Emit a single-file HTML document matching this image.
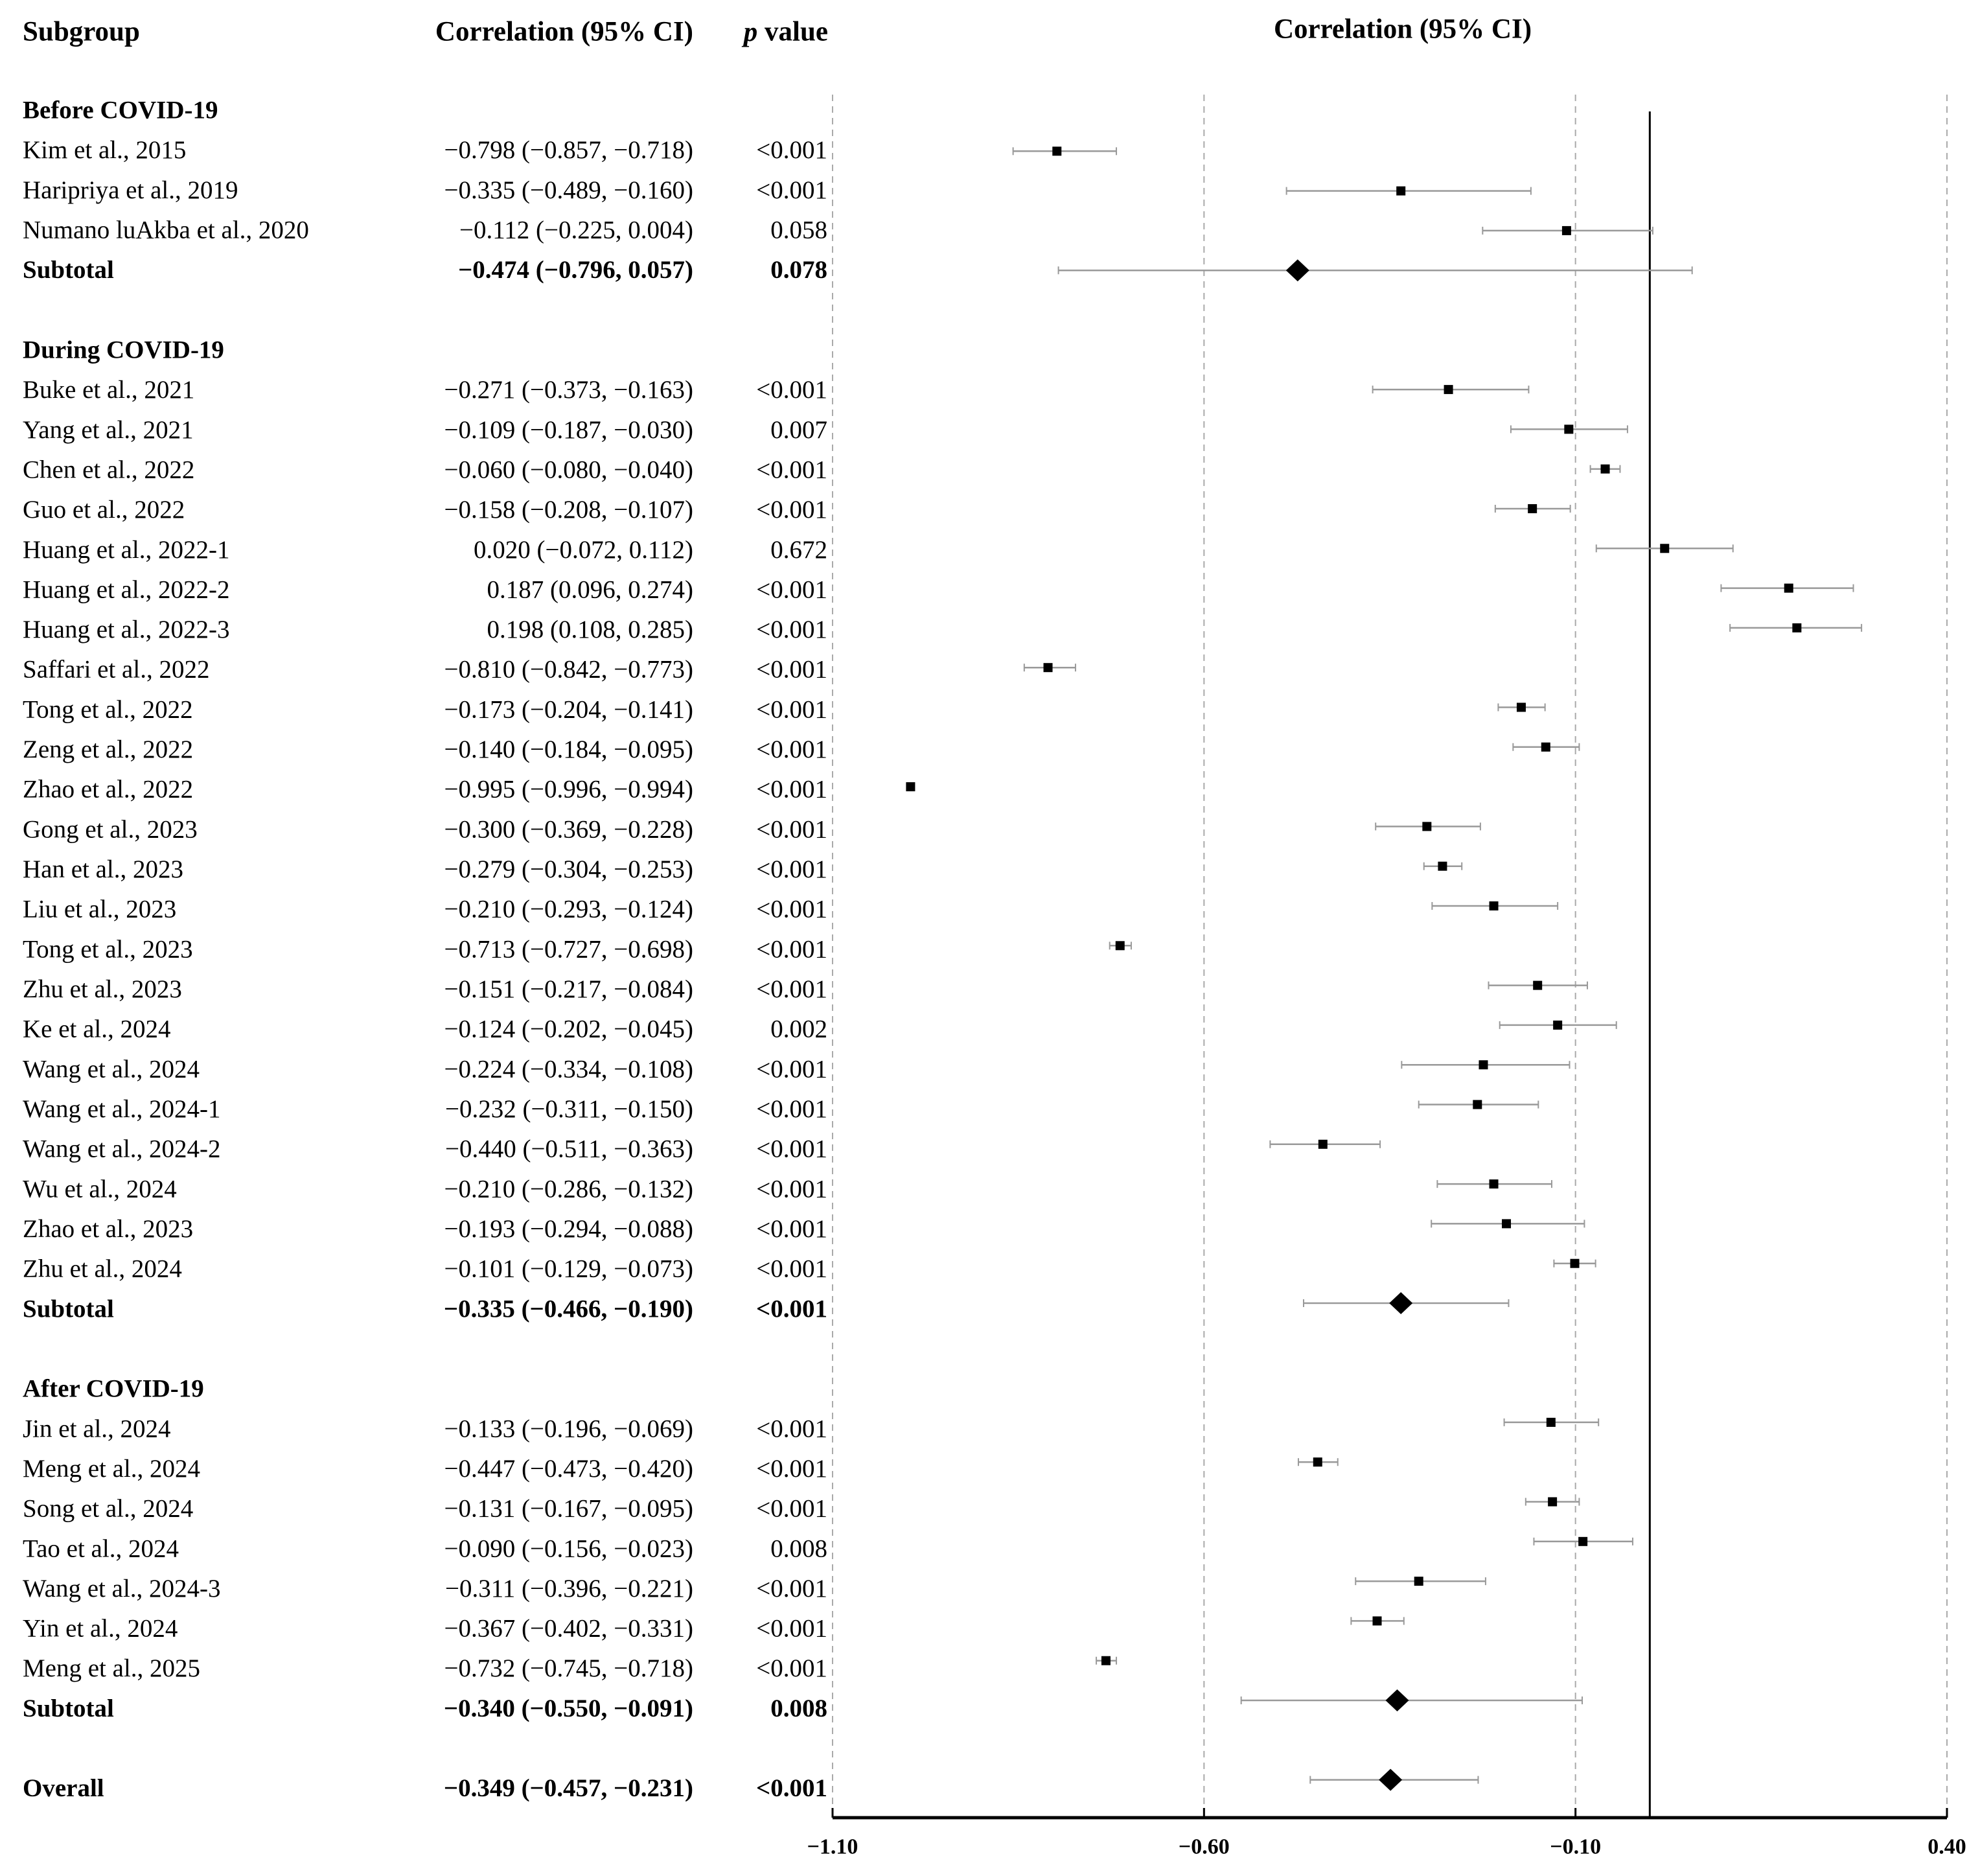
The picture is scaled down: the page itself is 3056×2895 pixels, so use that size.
<!DOCTYPE html>
<html><head><meta charset="utf-8"><style>
html,body{margin:0;padding:0;background:#fff}
svg{display:block}
text{font-family:"Liberation Serif",serif;fill:#000}
</style></head><body>
<svg id="c" width="3056" height="2895" viewBox="0 0 3056 2895" xmlns="http://www.w3.org/2000/svg"></svg>
<script>
// rows: type h=heading, s=study, t=subtotal, o=overall, b=blank
const rowTypes = ["h","s","s","s","t","b","h","s","s","s","s","s","s","s","s","s","s","s","s","s","s","s","s","s","s","s","s","s","s","s","t","b","h","s","s","s","s","s","s","s","t","b","o"];
const labels = ["Before COVID-19","Kim et al., 2015","Haripriya et al., 2019","Numano luAkba  et al., 2020","Subtotal","",
"During COVID-19","Buke et al., 2021","Yang et al., 2021","Chen et al., 2022","Guo et al., 2022","Huang et al., 2022-1","Huang et al., 2022-2","Huang et al., 2022-3","Saffari et al., 2022","Tong et al., 2022","Zeng et al., 2022","Zhao et al., 2022","Gong et al., 2023","Han et al., 2023","Liu et al., 2023","Tong et al., 2023","Zhu et al., 2023","Ke et al., 2024","Wang  et al., 2024","Wang et al., 2024-1","Wang et al., 2024-2","Wu et al., 2024","Zhao et al., 2023","Zhu et al., 2024","Subtotal","",
"After COVID-19","Jin et al., 2024","Meng et al., 2024","Song  et al., 2024","Tao et al., 2024","Wang et al., 2024-3","Yin et al., 2024","Meng et al., 2025","Subtotal","","Overall"];
const est = [null,-0.798,-0.335,-0.112,-0.474,null,null,-0.271,-0.109,-0.060,-0.158,0.020,0.187,0.198,-0.810,-0.173,-0.140,-0.995,-0.300,-0.279,-0.210,-0.713,-0.151,-0.124,-0.224,-0.232,-0.440,-0.210,-0.193,-0.101,-0.335,null,null,-0.133,-0.447,-0.131,-0.090,-0.311,-0.367,-0.732,-0.340,null,-0.349];
const lower = [null,-0.857,-0.489,-0.225,-0.796,null,null,-0.373,-0.187,-0.080,-0.208,-0.072,0.096,0.108,-0.842,-0.204,-0.184,-0.996,-0.369,-0.304,-0.293,-0.727,-0.217,-0.202,-0.334,-0.311,-0.511,-0.286,-0.294,-0.129,-0.466,null,null,-0.196,-0.473,-0.167,-0.156,-0.396,-0.402,-0.745,-0.550,null,-0.457];
const upper = [null,-0.718,-0.160,0.004,0.057,null,null,-0.163,-0.030,-0.040,-0.107,0.112,0.274,0.285,-0.773,-0.141,-0.095,-0.994,-0.228,-0.253,-0.124,-0.698,-0.084,-0.045,-0.108,-0.150,-0.363,-0.132,-0.088,-0.073,-0.190,null,null,-0.069,-0.420,-0.095,-0.023,-0.221,-0.331,-0.718,-0.091,null,-0.231];
const pvals = [null,"<0.001","<0.001","0.058","0.078",null,null,"<0.001","0.007","<0.001","<0.001","0.672","<0.001","<0.001","<0.001","<0.001","<0.001","<0.001","<0.001","<0.001","<0.001","<0.001","<0.001","0.002","<0.001","<0.001","<0.001","<0.001","<0.001","<0.001","<0.001",null,null,"<0.001","<0.001","<0.001","0.008","<0.001","<0.001","<0.001","0.008",null,"<0.001"];
const xTicks = [-1.10,-0.60,-0.10,0.40];
const xTickLabels = ["\u22121.10","\u22120.60","\u22120.10","0.40"];

const svg=document.getElementById('c');
const NS="http://www.w3.org/2000/svg";
const X0=1285,X1=3005,VMIN=-1.1,VMAX=0.4;
function xs(v){return X0+(v-VMIN)/(VMAX-VMIN)*(X1-X0);}
function ty(i){return 170+i*61.66;}
function my(i){return 172+i*61.3;}
function mk(tag,attrs,parent){const e=document.createElementNS(NS,tag);for(const k in attrs)e.setAttribute(k,attrs[k]);(parent||svg).appendChild(e);return e;}
function fmt(v){return (v<0?"\u2212":"")+Math.abs(v).toFixed(3);}
function txt(s,x,y,anchor,bold,size){const t=mk('text',{x:x,y:y,'text-anchor':anchor,'font-size':size||39,'font-weight':bold?'bold':'normal','dominant-baseline':'central'});t.textContent=s;return t;}

// headers
let h=txt("Subgroup",35,49,'start',true,43);


h=txt("Correlation (95% CI)",1070,49,'end',true,43);


h=mk('text',{x:1278,y:49,'text-anchor':'end','font-size':43,'font-weight':'bold','dominant-baseline':'central'});
h.innerHTML='<tspan font-style="italic">p</tspan>  value';


h=txt("Correlation (95% CI)",2165,45,'middle',true,43);



// gridlines
xTicks.forEach((v,k)=>{
  const g=mk('line',{x1:xs(v),x2:xs(v),y1:146,y2:2803,stroke:'#aaa','stroke-width':2,'stroke-dasharray':'10,8'});
  
  
});
const zl=mk('line',{x1:xs(0),x2:xs(0),y1:172,y2:2803,stroke:'#000','stroke-width':3});



// rows
rowTypes.forEach((t,i)=>{
  if(t==='b')return;
  const bold=(t!=='s');
  const y=ty(i);
  const l=txt(labels[i],35,y,'start',bold,39);
  
  
  if(t==='h')return;
  const c=txt(fmt(est[i])+" ("+fmt(lower[i])+", "+fmt(upper[i])+")",1070,y,'end',bold,39);
  
  
  const p=txt(pvals[i],1277,y,'end',bold,39);
  
  
  const yy=my(i);
  const ci=mk('line',{x1:xs(lower[i]),x2:xs(upper[i]),y1:yy,y2:yy,stroke:'#999','stroke-width':2.5});
  
  
  [lower[i],upper[i]].forEach(v=>{
    const cap=mk('line',{x1:xs(v),x2:xs(v),y1:yy-6,y2:yy+6,stroke:'#999','stroke-width':2});
    
    
  });
  const cx=xs(est[i]);
  if(t==='s'){
    const m=mk('rect',{x:cx-7,y:yy-7,width:14,height:14,fill:'#000'});
    
    
  }else{
    const d=mk('polygon',{points:`${cx-18},${yy} ${cx},${yy-17} ${cx+18},${yy} ${cx},${yy+17}`,fill:'#000'});
    
    
  }
});

// axis
const ax=mk('line',{x1:X0,x2:X1,y1:2805,y2:2805,stroke:'#000','stroke-width':5});


xTicks.forEach((v,k)=>{
  const tk=mk('line',{x1:xs(v),x2:xs(v),y1:2790,y2:2805,stroke:'#000','stroke-width':3});
  
  
  const tl=txt(xTickLabels[k],xs(v),2850,'middle',true,34);
  
  
});
</script>
</body></html>
